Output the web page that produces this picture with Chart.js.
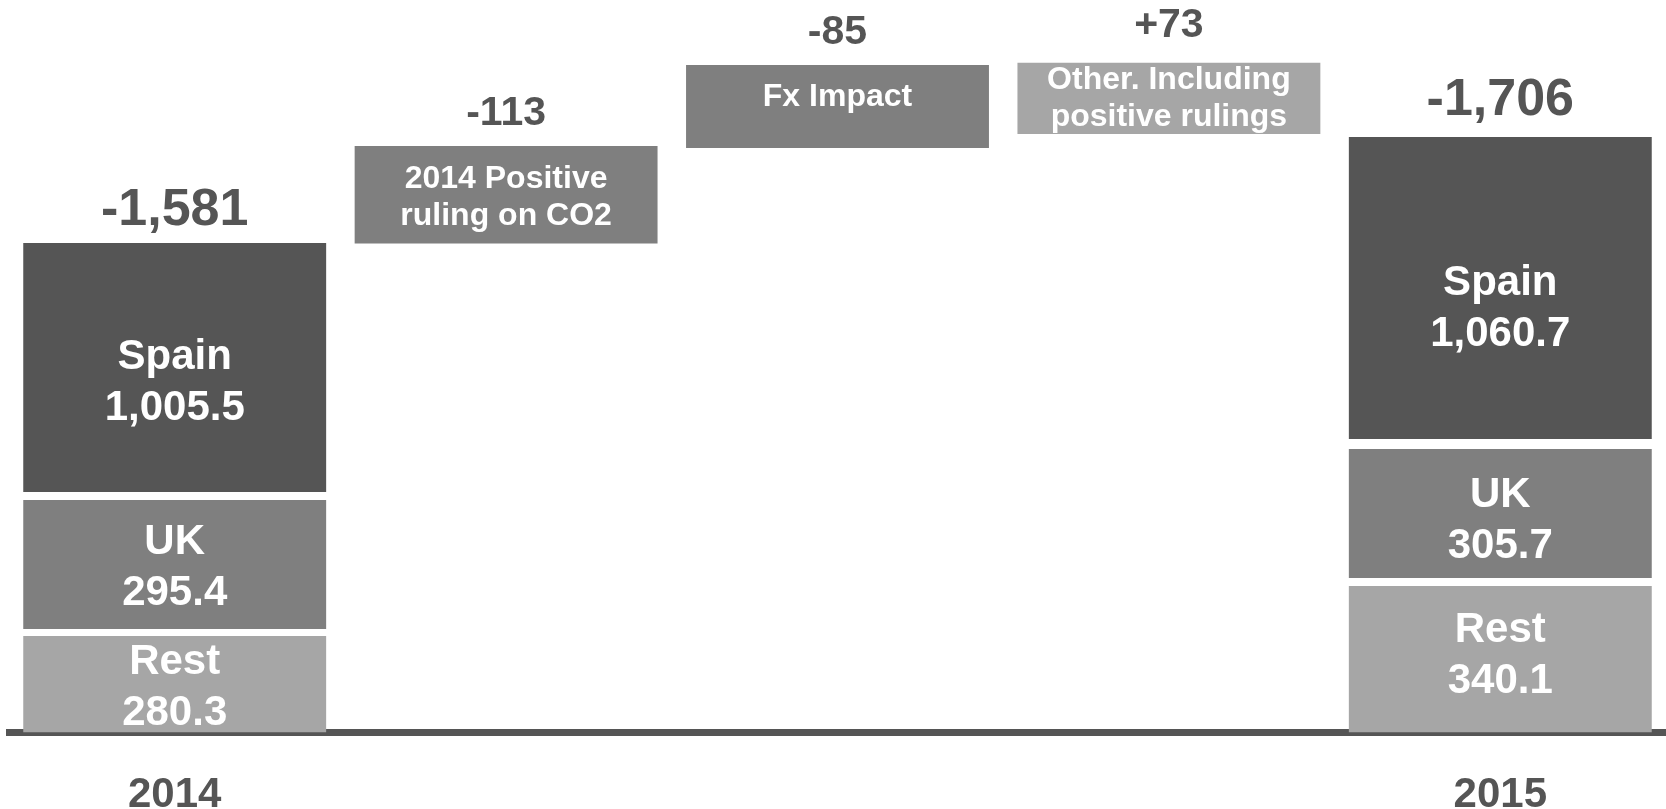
<!DOCTYPE html>
<html>
<head>
<meta charset="utf-8">
<script src="https://cdn.jsdelivr.net/npm/chart.js@4.4.1/dist/chart.umd.min.js"></script>
<style>
html, body { margin: 0; padding: 0; background: #fff; }
#wrap { width: 1666px; height: 809px; position: relative; }
</style>
</head>
<body>
<div id="wrap"><canvas id="bridge"></canvas></div>
<script>
// bridge steps, first and last are the yearly totals
const categories = ['2014', '2014 Positive ruling on CO2', 'Fx Impact', 'Other. Including positive rulings', '2015'];
const tickLabels = ['2014', '', '', '', '2015'];
const totalLabels = ['-1,581', '-113', '-85', '+73', '-1,706'];
const stepLabels = [null, ['2014 Positive', 'ruling on CO2'], ['Fx Impact', ''], ['Other. Including', 'positive rulings'], null];

// country split printed in the boxes
const spainValues = [1005.5, null, null, null, 1060.7];
const ukValues = [295.4, null, null, null, 305.7];
const restValues = [280.3, null, null, null, 340.1];

// the slide is not drawn to scale, so box extents are read off the picture (axis 0-2400)
const spainRange = [[788, 1604], null, null, null, [962, 1951]];
const ukRange = [[339, 762], null, null, null, [506, 929]];
const restRange = [[0, 316], null, null, null, [0, 480]];
const stepRange = [null, [1602, 1922], [1915, 2187], [1961, 2194], null];

const DARK = '#555555';
const MID = '#7f7f7f';
const LIGHT = '#a6a6a6';
const FONT = '"Liberation Sans", Arial, sans-serif';
// gap between column top and the label above it (px)
const totalGap = [37, 36, 36, 41, 41];

const fmt = v => v.toLocaleString('en-US', { minimumFractionDigits: 1, maximumFractionDigits: 1 });

const labelPlugin = {
    id: 'bridgeLabels',
    afterDatasetsDraw(chart) {
        const ctx = chart.ctx;
        ctx.save();
        ctx.textAlign = 'center';
        ctx.textBaseline = 'alphabetic';

        // name + value inside the country boxes
        chart.data.datasets.forEach((ds, di) => {
            if (!ds.values) return;
            const meta = chart.getDatasetMeta(di);
            meta.data.forEach((bar, i) => {
                if (ds.values[i] == null) return;
                const mid = (bar.y + bar.base) / 2 + ds.labelShift[i];
                ctx.fillStyle = '#ffffff';
                ctx.font = 'bold 42px ' + FONT;
                ctx.fillText(ds.label, bar.x, mid - 25.5 + 15);
                ctx.fillText(fmt(ds.values[i]), bar.x, mid + 25.5 + 15);
            });
        });

        // text inside the step boxes
        const stepMeta = chart.getDatasetMeta(3);
        stepMeta.data.forEach((bar, i) => {
            if (!stepLabels[i]) return;
            const mid = (bar.y + bar.base) / 2;
            ctx.fillStyle = '#ffffff';
            ctx.font = 'bold 32px ' + FONT;
            if (!stepLabels[i][1]) {
                ctx.fillText(stepLabels[i][0], bar.x, mid - 12 + 11.5);
            } else {
                const shift = i === 3 ? -2 : 0;
                ctx.fillText(stepLabels[i][0], bar.x, mid - 18.5 + 11.5 + shift);
                ctx.fillText(stepLabels[i][1], bar.x, mid + 18.5 + 11.5 + shift);
            }
        });

        // totals / deltas above each column
        categories.forEach((c, i) => {
            let top = Infinity, x = 0;
            chart.data.datasets.forEach((ds, di) => {
                if (ds.data[i] == null) return;
                const bar = chart.getDatasetMeta(di).data[i];
                if (bar.y < top) { top = bar.y; x = bar.x; }
            });
            const size = (i === 0 || i === 4) ? 52 : 41;
            ctx.fillStyle = DARK;
            ctx.font = 'bold ' + size + 'px ' + FONT;
            ctx.fillText(totalLabels[i], x, top - totalGap[i] + 0.358 * size);
        });
        ctx.restore();
    }
};

const barOpts = { grouped: false, barPercentage: 0.914, categoryPercentage: 1, borderWidth: 0 };

new Chart(document.getElementById('bridge').getContext('2d'), {
    type: 'bar',
    data: {
        labels: categories,
        datasets: [
            Object.assign({ label: 'Spain', data: spainRange, values: spainValues, labelShift: [12, 0, 0, 0, 18], backgroundColor: DARK }, barOpts),
            Object.assign({ label: 'UK', data: ukRange, values: ukValues, labelShift: [0, 0, 0, 0, 4], backgroundColor: MID }, barOpts),
            Object.assign({ label: 'Rest', data: restRange, values: restValues, labelShift: [0, 0, 0, 0, -6.5], backgroundColor: LIGHT }, barOpts),
            Object.assign({ label: 'Steps', data: stepRange, backgroundColor: [MID, MID, MID, LIGHT, MID] }, barOpts)
        ]
    },
    options: {
        responsive: true,
        maintainAspectRatio: false,
        animation: false,
        layout: { padding: { left: 9, right: 0, top: 0, bottom: 0 } },
        plugins: { legend: { display: false }, tooltip: { enabled: false } },
        scales: {
            x: {
                z: 1,
                offset: true,
                grid: { display: false, drawTicks: false },
                border: { display: true, color: DARK, width: 7 },
                ticks: {
                    color: DARK,
                    padding: 38,
                    autoSkip: false,
                    maxRotation: 0,
                    font: { family: FONT, size: 42, weight: 'bold' },
                    callback: (v, i) => tickLabels[i]
                },
                afterFit: s => { s.height = 76.5; }
            },
            y: { display: false, min: 0, max: 2400 }
        }
    },
    plugins: [labelPlugin]
});
</script>
</body>
</html>
